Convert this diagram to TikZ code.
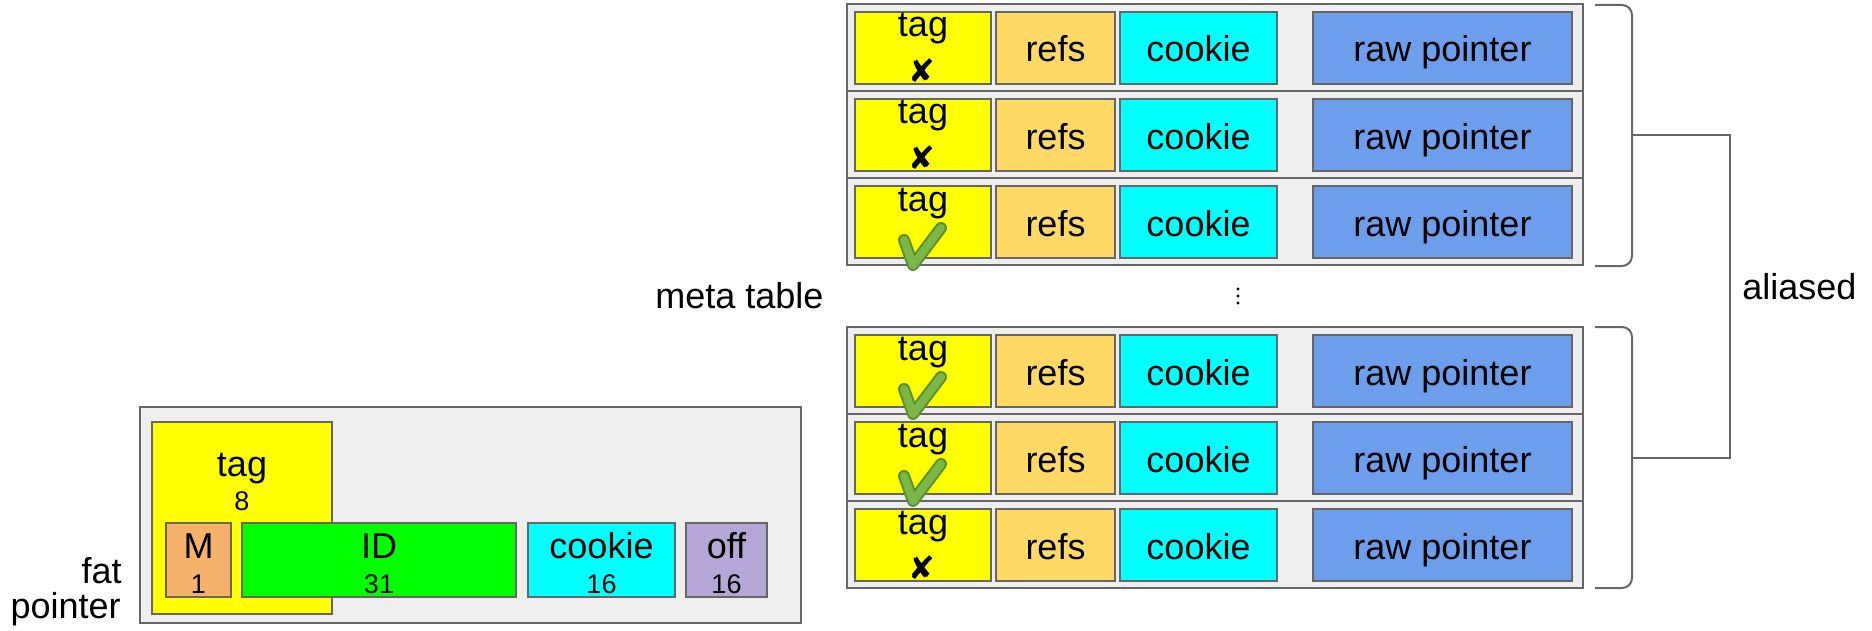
\documentclass[tikz,border=0pt]{standalone}
\usepackage{fontspec}
\setmainfont{Liberation Sans}
\newfontfamily\symfont{DejaVu Sans}
\usetikzlibrary{fit}

\definecolor{tagyellow}{HTML}{FFFF00}
\definecolor{refsorange}{HTML}{FFD966}
\definecolor{cookiecyan}{HTML}{00FFFF}
\definecolor{rawblue}{HTML}{6D9EEB}
\definecolor{morange}{HTML}{F6B26B}
\definecolor{idgreen}{HTML}{00FF00}
\definecolor{offpurple}{HTML}{B4A7D6}
\definecolor{panelgray}{HTML}{EEEEEE}
\definecolor{edgegray}{HTML}{666666}
\definecolor{checkfill}{HTML}{7AB648}
\definecolor{checkedge}{HTML}{5A8F2E}

\begin{document}
\begin{tikzpicture}[x=0.5pt,y=-0.5pt,
  box/.style={draw=edgegray, line width=1pt, inner sep=0pt},
  panel/.style={box, fill=panelgray},
  bigfont/.style={font=\fontsize{18pt}{21pt}\selectfont},
  numfont/.style={font=\fontsize{13.5pt}{16pt}\selectfont},
  lbl/.style={inner sep=0pt, bigfont, anchor=base},
  numlbl/.style={inner sep=0pt, numfont, anchor=base},
  crossmark/.style={inner sep=0pt, font=\symfont\fontsize{16pt}{16pt}\selectfont},
  bracket/.style={draw=edgegray, line width=1pt, rounded corners=5pt},
  link/.style={draw=edgegray, line width=1pt},
  checkouter/.style={checkedge, line width=6pt, line cap=round, line join=round},
  checkinner/.style={checkfill, line width=4pt, line cap=round, line join=round}
]
\useasboundingbox (0,0) rectangle (1872,631);

% ---- meta table: six rows, a gap between the first three and the last three
\foreach \r/\T in {1/4, 2/91, 3/178, 4/327, 5/414, 6/501}{
  \node[panel, fit={(847,\T)(1583,\T+87)}] (row\r) {};
  \node[box, fill=tagyellow, fit={(855,\T+8)(991,\T+80)}] (tag\r) {};
  \node[box, fill=refsorange, fit={(996,\T+8)(1115,\T+80)}] (refs\r) {};
  \node[box, fill=cookiecyan, fit={(1120,\T+8)(1277,\T+80)}] (cookie\r) {};
  \node[box, fill=rawblue, fit={(1313,\T+8)(1572,\T+80)}] (raw\r) {};
  \node[lbl] (tagtxt\r) at (923,\T+33) {tag};
  \node[lbl] (refstxt\r) at (1055.5,\T+58) {refs};
  \node[lbl] (cookietxt\r) at (1198.5,\T+58) {cookie};
  \node[lbl] (rawtxt\r) at (1442.5,\T+58) {raw pointer};
}

% tag mismatch marks
\foreach \r/\T in {1/4, 2/91, 6/501}{
  \node[crossmark] (cross\r) at (922,\T+67) {✘};
}

% tag match marks
\foreach \r/\T in {3/178, 4/327, 5/414}{
  \draw[checkouter] (904,\T+62) -- (913,\T+87) -- (941,\T+50);
  \draw[checkinner] (904,\T+62) -- (913,\T+87) -- (941,\T+50);
}

% ellipsis between the two groups of rows
\foreach \dy in {289,296,303}{
  \fill (1238,\dy) circle[radius=1.7];
}

\node[lbl, anchor=base west] (metalbl) at (655,308) {meta table};

% ---- brackets grouping the rows and the link between them
\coordinate (topmid) at (1632,135);
\coordinate (botmid) at (1632,458);
\draw[bracket] (1595,5) -- (1632,5) -- (1632,266) -- (1595,266);
\draw[bracket] (1595,327) -- (1632,327) -- (1632,588) -- (1595,588);
\draw[link] (topmid) -- (1730,135) -- (1730,458) -- (botmid);
\node[lbl, anchor=base west] (aliaslbl) at (1742,299) {aliased};

% ---- fat pointer layout
\node[panel, fit={(140,407)(801,623)}] (fp) {};
\node[box, fill=tagyellow, fit={(152,422)(332,614)}] (fptag) {};
\node[lbl] at (242,476) {tag};
\node[numlbl] at (242,510) {8};

\node[box, fill=morange, fit={(166,523)(231,597)}] (fpm) {};
\node[lbl] at (198.5,558) {M};
\node[numlbl] at (198.5,593) {1};

\node[box, fill=idgreen, fit={(242,523)(516,597)}] (fpid) {};
\node[lbl] at (379,558) {ID};
\node[numlbl] at (379,593) {31};

\node[box, fill=cookiecyan, fit={(528,523)(675,597)}] (fpcookie) {};
\node[lbl] at (601.5,558) {cookie};
\node[numlbl] at (601.5,593) {16};

\node[box, fill=offpurple, fit={(686,523)(767,597)}] (fpoff) {};
\node[lbl] at (726.5,558) {off};
\node[numlbl] at (726.5,593) {16};

\node[lbl, anchor=base east] (fatlbl) at (122,583) {fat};
\node[lbl, anchor=base east] (ptrlbl) at (121,618) {pointer};
\end{tikzpicture}
\end{document}
